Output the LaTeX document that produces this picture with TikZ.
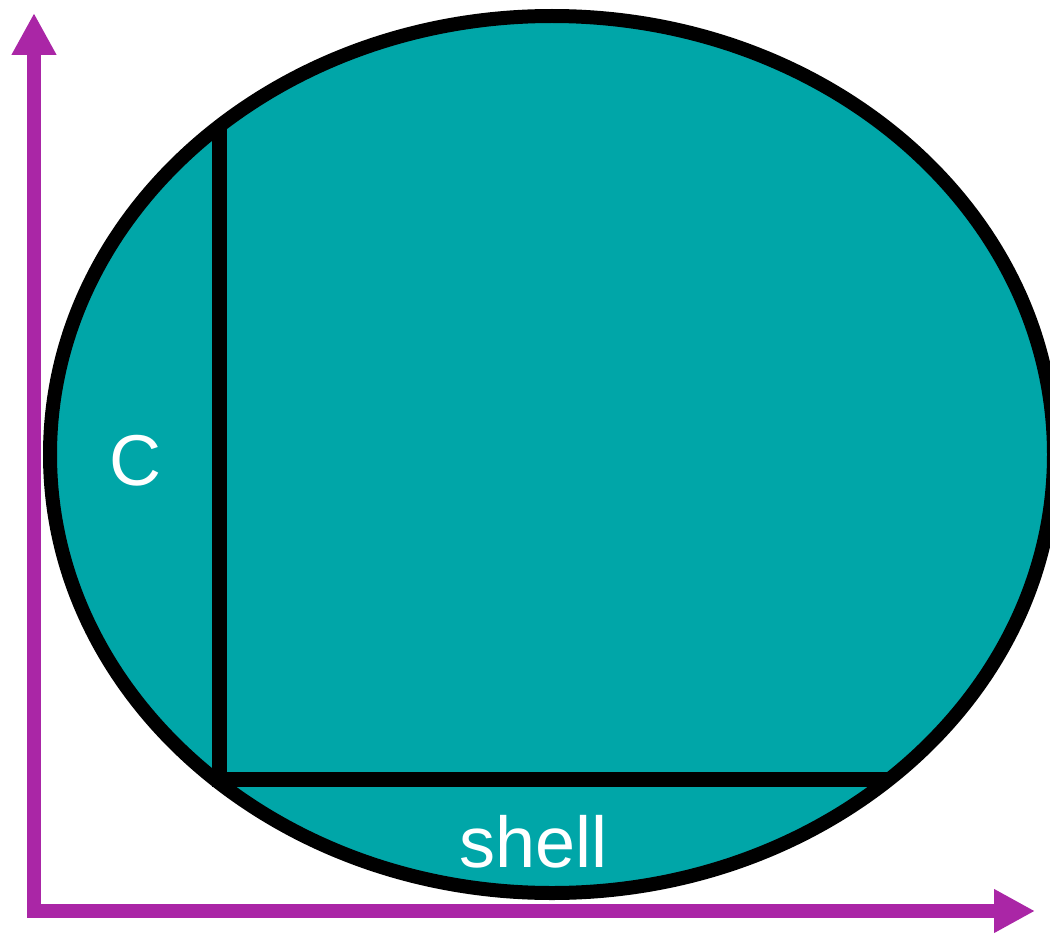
\documentclass[tikz,border=0pt]{standalone}
\usepackage{fontspec}
\setmainfont{Liberation Sans}
\usepackage{xcolor}
\usetikzlibrary{arrows.meta}
\definecolor{cellfill}{RGB}{0,166,168}
\definecolor{axispurple}{RGB}{170,38,166}
\tikzset{
  cellb/.style ={draw=black, line width=14pt, fill=cellfill},
  part/.style  ={draw=black, line width=15pt, line join=miter},
  axis/.style  ={draw=axispurple, line width=14pt, line join=miter,
                 {Triangle[length=42pt,width=42pt]}-{Triangle[length=41pt,width=41pt]}},
  lab/.style   ={text=white, font=\fontsize{72}{80}\selectfont, inner sep=0pt, anchor=base},
}
\begin{document}
\begin{tikzpicture}[x=1pt,y=-1pt]
  \useasboundingbox (0,0) rectangle (1050,934);
  \coordinate (origin) at (34,911);
  \coordinate (ytip) at (34,13);
  \coordinate (xtip) at (1035,911);
  \draw[axis] (ytip) -- (origin) -- (xtip);
  \draw[cellb] (552,454.5) ellipse [x radius=502pt, y radius=438.5pt];
  \coordinate (ctop) at (219.5,124);
  \coordinate (corner) at (219.5,779.5);
  \coordinate (cright) at (890,779.5);
  \draw[part] (ctop) -- (corner) -- (cright);
  \node[lab] (clab) at (135,485) {C};
  \node[lab] (shelllab) at (533.5,867) {shell};
\end{tikzpicture}
\end{document}
